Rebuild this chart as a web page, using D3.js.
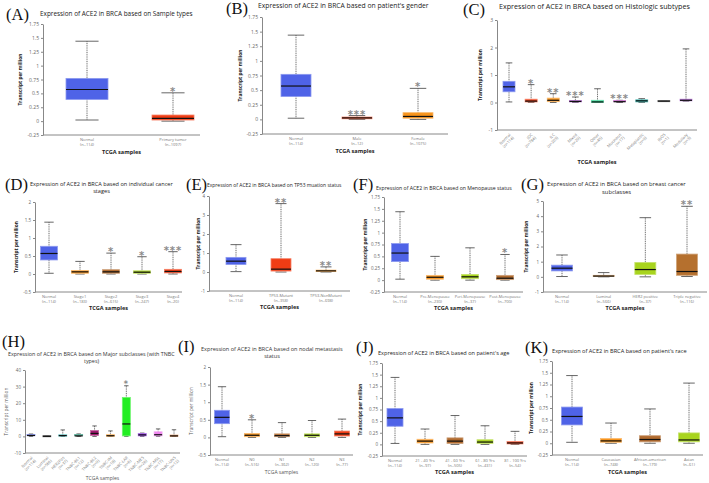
<!DOCTYPE html>
<html><head><meta charset="utf-8">
<script src="https://cdn.jsdelivr.net/npm/d3@7"></script>
<style>body{margin:0;background:#fff}svg{display:block}</style>
</head><body><svg id="c" width="709" height="483"></svg>
<script>
// ---------- DATA ----------
const normalStat=[0.02,0.39,0.57,0.77,1.44];
const ticks175=[-0.25,0,0.25,0.5,0.75,1,1.25,1.5,1.75];
// A
const catA=["Normal","Primary tumor"], nA=["(n=114)","(n=1097)"];
const statA=[normalStat,[0,0.02,0.05,0.11,0.51]];
const sigA=["","*"];
const colA=["#4f63e7","#f03c14"];
const tickA=ticks175;
// B
const catB=["Normal","Male","Female"], nB=["(n=114)","(n=12)","(n=1075)"];
const statB=[normalStat,[0,0.01,0.025,0.04,0.065],[0,0.02,0.05,0.115,0.53]];
const sigB=["","***","*"];
const colB=["#4f63e7","#f03c14","#f7941d"];
const tickB=ticks175;
// C
const catC=["Normal","IDC","ILC","Mixed","Other","Mucinous","Metaplastic","INOS","Medullary"];
const nC=["(n=114)","(n=784)","(n=203)","(n=29)","(n=45)","(n=17)","(n=9)","(n=1)","(n=3)"];
const statC=[normalStat,[0,0.02,0.05,0.12,0.65],[0,0.03,0.08,0.16,0.32],[0,0.02,0.04,0.07,0.2],[0,0,0.02,0.08,0.5],[0,0.01,0.03,0.05,0.08],[0,0.02,0.06,0.1,0.14],[0.05,0.05,0.05,0.05,0.05],[0.05,0.06,0.08,0.12,1.95]];
const sigC=["","*","**","***","","***","","",""];
const colC=["#4f63e7","#f03c14","#f7941d","#a23dc8","#1fd38a","#b23cb8","#17a39a","#555555","#9a3fc4"];
const tickC=[-1,0,1,2,3];
// D
const catD=["Normal","Stage1","Stage2","Stage3","Stage4"], nD=["(n=114)","(n=183)","(n=615)","(n=247)","(n=20)"];
const statD=[normalStat,[0,0.02,0.06,0.1,0.35],[0,0.02,0.06,0.12,0.58],[0,0.02,0.05,0.09,0.48],[0,0.03,0.07,0.13,0.62]];
const sigD=["","","*","*","***"];
const colD=["#4f63e7","#f7941d","#b06a2e","#a8d41e","#f03c14"];
const tickD=[-0.5,0,0.5,1,1.5,2];
// E
const catE=["Normal","TP53-Mutant","TP53-NonMutant"], nE=["(n=114)","(n=358)","(n=698)"];
const statE=[normalStat,[0,0.05,0.15,0.7,3.6],[0,0.02,0.06,0.1,0.27]];
const sigE=["","**","**"];
const colE=["#4f63e7","#f03c14","#f7941d"];
const tickE=[-1,0,1,2,3,4];
// F
const catF=["Normal","Pre-Menopause","Peri-Menopause","Post-Menopause"], nF=["(n=114)","(n=230)","(n=37)","(n=700)"];
const statF=[normalStat,[0,0.02,0.06,0.1,0.5],[0,0.03,0.07,0.12,0.68],[0,0.01,0.04,0.1,0.54]];
const sigF=["","","","*"];
const colF=["#4f63e7","#f7941d","#a8d41e","#b06a2e"];
const tickF=ticks175;
// G
const catG=["Normal","Luminal","HER2 positive","Triple negative"], nG=["(n=114)","(n=566)","(n=37)","(n=116)"];
const statG=[normalStat,[0,0.02,0.05,0.1,0.28],[0,0.15,0.48,0.95,3.9],[0.02,0.1,0.35,1.5,4.65]];
const sigG=["","","","**"];
const colG=["#4f63e7","#d0893a","#a8d41e","#b5702e"];
const tickG=[-1,0,1,2,3,4,5];
// H
const catH=["Normal","Luminal","HER2Pos","TNBC-BL1","TNBC-BL2","TNBC-IM","TNBC-LAR","TNBC-MES","TNBC-MSL","TNBC-UNS"];
const nH=["(n=114)","(n=566)","(n=37)","(n=12)","(n=9)","(n=18)","(n=6)","(n=26)","(n=17)","(n=12)"];
const statH=[normalStat,[0,0,0.05,0.1,0.3],[0,0.15,0.5,0.95,3.9],[0,0.1,0.3,0.8,1.5],[0,0.6,1.8,3.6,6.3],[0,0.1,0.4,1.0,3.3],[0,0.3,7.5,23.5,30.5],[0,0.3,0.9,1.8,2.0],[0,0.3,1.0,2.8,4.5],[0,0.05,0.3,0.8,4.0]];
const sigH=["","","","","","","*","","",""];
const colH=["#4f63e7","#444444","#17a2a2","#138a6d","#a0186e","#f7941d","#22ee22","#8a2be2","#ee82ee","#d2691e"];
const tickH=[-10,0,10,20,30,40];
// I
const catI=["Normal","N0","N1","N2","N3"], nI=["(n=114)","(n=516)","(n=362)","(n=120)","(n=77)"];
const statI=[normalStat,[0,0.02,0.06,0.11,0.5],[0,0.02,0.05,0.1,0.42],[0,0.02,0.06,0.1,0.48],[0,0.04,0.1,0.18,0.52]];
const sigI=["","*","","",""];
const colI=["#4f63e7","#f7941d","#b06a2e","#a8d41e","#f03c14"];
const tickI=[-0.5,0,0.5,1,1.5,2];
// J
const catJ=["Normal","21 - 40 Yrs","41 - 60 Yrs","61 - 80 Yrs","81 - 100 Yrs"], nJ=["(n=114)","(n=97)","(n=505)","(n=431)","(n=54)"];
const statJ=[normalStat,[0,0.03,0.07,0.11,0.33],[0,0.02,0.07,0.14,0.62],[0,0.02,0.05,0.1,0.4],[0,0.01,0.03,0.06,0.28]];
const sigJ=["","","","",""];
const colJ=["#4f63e7","#f7941d","#b06a2e","#a8d41e","#f03c14"];
const tickJ=ticks175;
// K
const catK=["Normal","Caucasian","African-american","Asian"], nK=["(n=114)","(n=748)","(n=179)","(n=61)"];
const statK=[normalStat,[0,0.02,0.05,0.1,0.43],[0,0.03,0.08,0.16,0.73],[0,0.03,0.07,0.22,1.28]];
const sigK=["","","",""];
const colK=["#4f63e7","#f7941d","#b06a2e","#a8d41e"];
const tickK=ticks175;

// ---------- LAYOUT ----------
const panels=[
 {id:"(A)",lab:[6,20],title:["Expression of ACE2 in BRCA based on Sample types"],tt:[40,16,153],cats:catA,ns:nA,stats:statA,sig:sigA,cols:colA,ticks:tickA,
  L:{ax:43,ax2:200,yt:24,yb:135,c0:87,c1:173,bw:42,yl:22,xl:154,tf:5}},
 {id:"(B)",lab:[226,14],title:["Expression of ACE2 in BRCA based on patient's gender"],tt:[258,8,171],cats:catB,ns:nB,stats:statB,sig:sigB,cols:colB,ticks:tickB,
  L:{ax:262,ax2:448,yt:17,yb:134,c0:296,c1:418,bw:30,yl:242,xl:153,tf:5}},
 {id:"(C)",lab:[463,15],title:["Expression of ACE2 in BRCA based on Histologic subtypes"],tt:[499,9,191],cats:catC,ns:nC,stats:statC,sig:sigC,cols:colC,ticks:tickC,
  L:{ax:497,ax2:697,yt:20,yb:130,c0:509,c1:686,bw:12,yl:482,xl:164,tf:5,rot:true}},
 {id:"(D)",lab:[5,190],title:["Expression of ACE2 in BRCA based on individual cancer","stages"],tt:[30,186,143],cats:catD,ns:nD,stats:statD,sig:sigD,cols:colD,ticks:tickD,
  L:{ax:35,ax2:182,yt:202,yb:292,c0:49,c1:173,bw:17,yl:18,xl:310,tf:4.5}},
 {id:"(E)",lab:[186,190],title:["Expression of ACE2 in BRCA based on TP53 muation status"],tt:[207,187,135],cats:catE,ns:nE,stats:statE,sig:sigE,cols:colE,ticks:tickE,
  L:{ax:209,ax2:350,yt:196,yb:291,c0:236,c1:326,bw:20,yl:200,xl:309,tf:4.5}},
 {id:"(F)",lab:[353,190],title:["Expression of ACE2 in BRCA based on Menopause status"],tt:[376,190,136],cats:catF,ns:nF,stats:statF,sig:sigF,cols:colF,ticks:tickF,
  L:{ax:384,ax2:523,yt:197,yb:292,c0:400,c1:505,bw:17,yl:367,xl:310,tf:4.5}},
 {id:"(G)",lab:[521,190],title:["Expression of ACE2 in BRCA based on breast cancer","subclasses"],tt:[547,186,139],cats:catG,ns:nG,stats:statG,sig:sigG,cols:colG,ticks:tickG,
  L:{ax:543,ax2:707,yt:201,yb:292,c0:562,c1:687,bw:21,yl:528,xl:310,tf:4.5}},
 {id:"(H)",lab:[2,347],title:["Expression of ACE2 in BRCA based on Major subclasses (with TNBC","types)"],tt:[8,356,167],cats:catH,ns:nH,stats:statH,sig:sigH,cols:colH,ticks:tickH,
  L:{ax:25,ax2:180,yt:370,yb:453,c0:31,c1:174,bw:8,yl:8,xl:480,tf:4.5,rot:true,light:true}},
 {id:"(I)",lab:[178,352],title:["Expression of ACE2 in BRCA based on nodal metastasis","status"],tt:[201,351,142],cats:catI,ns:nI,stats:statI,sig:sigI,cols:colI,ticks:tickI,
  L:{ax:210,ax2:353,yt:367,yb:455,c0:222,c1:342,bw:15,yl:193,xl:474,tf:4.5,light:true}},
 {id:"(J)",lab:[356,353],title:["Expression of ACE2 in BRCA based on patient's age"],tt:[378,355,132],cats:catJ,ns:nJ,stats:statJ,sig:sigJ,cols:colJ,ticks:tickJ,
  L:{ax:382,ax2:527,yt:363,yb:456,c0:395,c1:515,bw:16,yl:362,xl:474,tf:4.5}},
 {id:"(K)",lab:[525,353],title:["Expression of ACE2 in BRCA based on patient's race"],tt:[552,353,135],cats:catK,ns:nK,stats:statK,sig:sigK,cols:colK,ticks:tickK,
  L:{ax:552,ax2:703,yt:361,yb:455,c0:572,c1:689,bw:21,yl:533,xl:474,tf:4.5}}
];

const svg=d3.select("#c");
svg.append("rect").attr("width",709).attr("height",483).attr("fill","#fff");
const FF="'Open Sans', Lato, sans-serif";

function lighten(c){return d3.interpolateRgb(c,"#ffffff")(0.35);}

function drawPanel(P){
  const L=P.L, g=svg.append("g");
  const y=d3.scaleLinear().domain(d3.extent(P.ticks)).range([L.yb,L.yt]);
  const x=d3.scalePoint().domain(P.cats).range([L.c0,L.c1]);
  // panel letter
  g.append("text").attr("x",P.lab[0]).attr("y",P.lab[1]).text(P.id)
   .attr("font-family","'Liberation Serif','Times New Roman',serif").attr("font-size",16.5).attr("fill","#111");
  // title: font size fitted to target width
  const tcol=L.light?"#333":"#222";
  const t1=g.append("text").attr("x",P.tt[0]).attr("y",P.tt[1]).text(P.title[0])
   .attr("font-family",FF).attr("font-size",10).attr("fill",tcol);
  const fs=10*P.tt[2]/t1.node().getComputedTextLength();
  t1.attr("font-size",fs);
  if(P.title[1]) g.append("text").attr("x",P.tt[0]+P.tt[2]/2).attr("y",P.tt[1]+fs*1.3).attr("text-anchor","middle")
   .text(P.title[1]).attr("font-family",FF).attr("font-size",fs).attr("fill",tcol);
  // y axis
  const ax=g.append("g").attr("transform",`translate(${L.ax},0)`)
    .call(d3.axisLeft(y).tickValues(P.ticks).tickSize(2).tickSizeOuter(0).tickPadding(2).tickFormat(d=>String(d)));
  ax.select(".domain").attr("stroke","#888");
  ax.selectAll(".tick line").attr("stroke","#888");
  ax.selectAll(".tick text").attr("fill","#666").attr("font-size",L.tf).attr("font-family",FF);
  // x axis line
  g.append("line").attr("x1",L.ax).attr("x2",L.ax2).attr("y1",y(P.ticks[0])).attr("y2",y(P.ticks[0])).attr("stroke","#888");
  // axis titles
  g.append("text").attr("transform",`translate(${L.yl},${(L.yt+L.yb)/2}) rotate(-90)`).attr("text-anchor","middle")
   .attr("font-family",FF).attr("font-size",4.8).attr("font-weight",L.light?"normal":"bold").attr("fill",L.light?"#555":"#222")
   .text("Transcript per million");
  g.append("text").attr("x",(L.ax+L.ax2)/2).attr("y",L.xl).attr("text-anchor","middle")
   .attr("font-family",FF).attr("font-size",L.light?5:5.6).attr("font-weight",L.light?"normal":"bold").attr("fill",L.light?"#555":"#222")
   .text("TCGA samples");
  // boxes
  P.stats.forEach((s,i)=>{
    const cx=x(P.cats[i]), bw=L.bw, cw=bw*0.55;
    const [mn,q1,md,q3,mx]=s;
    g.append("line").attr("x1",cx).attr("x2",cx).attr("y1",y(mx)).attr("y2",y(mn))
      .attr("stroke","#555").attr("stroke-width",0.9).attr("stroke-dasharray","1,0.8");
    [mn,mx].forEach(v=>g.append("line").attr("x1",cx-cw/2).attr("x2",cx+cw/2).attr("y1",y(v)).attr("y2",y(v))
      .attr("stroke","#555").attr("stroke-width",0.9));
    const h=Math.max(y(q1)-y(q3),1.2);
    g.append("rect").attr("x",cx-bw/2).attr("y",y(q3)-(h>1.2?0:0.6)).attr("width",bw).attr("height",h)
      .attr("fill",P.cols[i]).attr("stroke",lighten(P.cols[i])).attr("stroke-width",0.8);
    g.append("line").attr("x1",cx-bw/2).attr("x2",cx+bw/2).attr("y1",y(md)).attr("y2",y(md))
      .attr("stroke","#111").attr("stroke-width",1.2);
    if(P.sig[i]) g.append("text").attr("x",cx).attr("y",y(mx)+(bw<10?1:2)).attr("text-anchor","middle")
      .attr("font-family","'DejaVu Sans',sans-serif").attr("font-size",bw<10?8:10).attr("font-weight","bold")
      .attr("letter-spacing",1).attr("fill","#8a8a8a").text(P.sig[i]);
    // category labels
    if(L.rot){
      const t=g.append("text").attr("transform",`translate(${cx+2},${L.yb+5}) rotate(-45)`)
        .attr("text-anchor","end").attr("font-family",FF).attr("font-size",4).attr("fill","#777");
      t.append("tspan").attr("x",0).attr("y",0).text(P.cats[i]);
      t.append("tspan").attr("x",0).attr("y",4.5).text(P.ns[i]);
    } else {
      const t=g.append("text").attr("text-anchor","middle").attr("font-family",FF).attr("font-size",4).attr("fill","#777");
      t.append("tspan").attr("x",cx).attr("y",L.yb+6).text(P.cats[i]);
      t.append("tspan").attr("x",cx).attr("y",L.yb+11).text(P.ns[i]);
    }
  });
}
panels.forEach(drawPanel);
</script></body></html>
